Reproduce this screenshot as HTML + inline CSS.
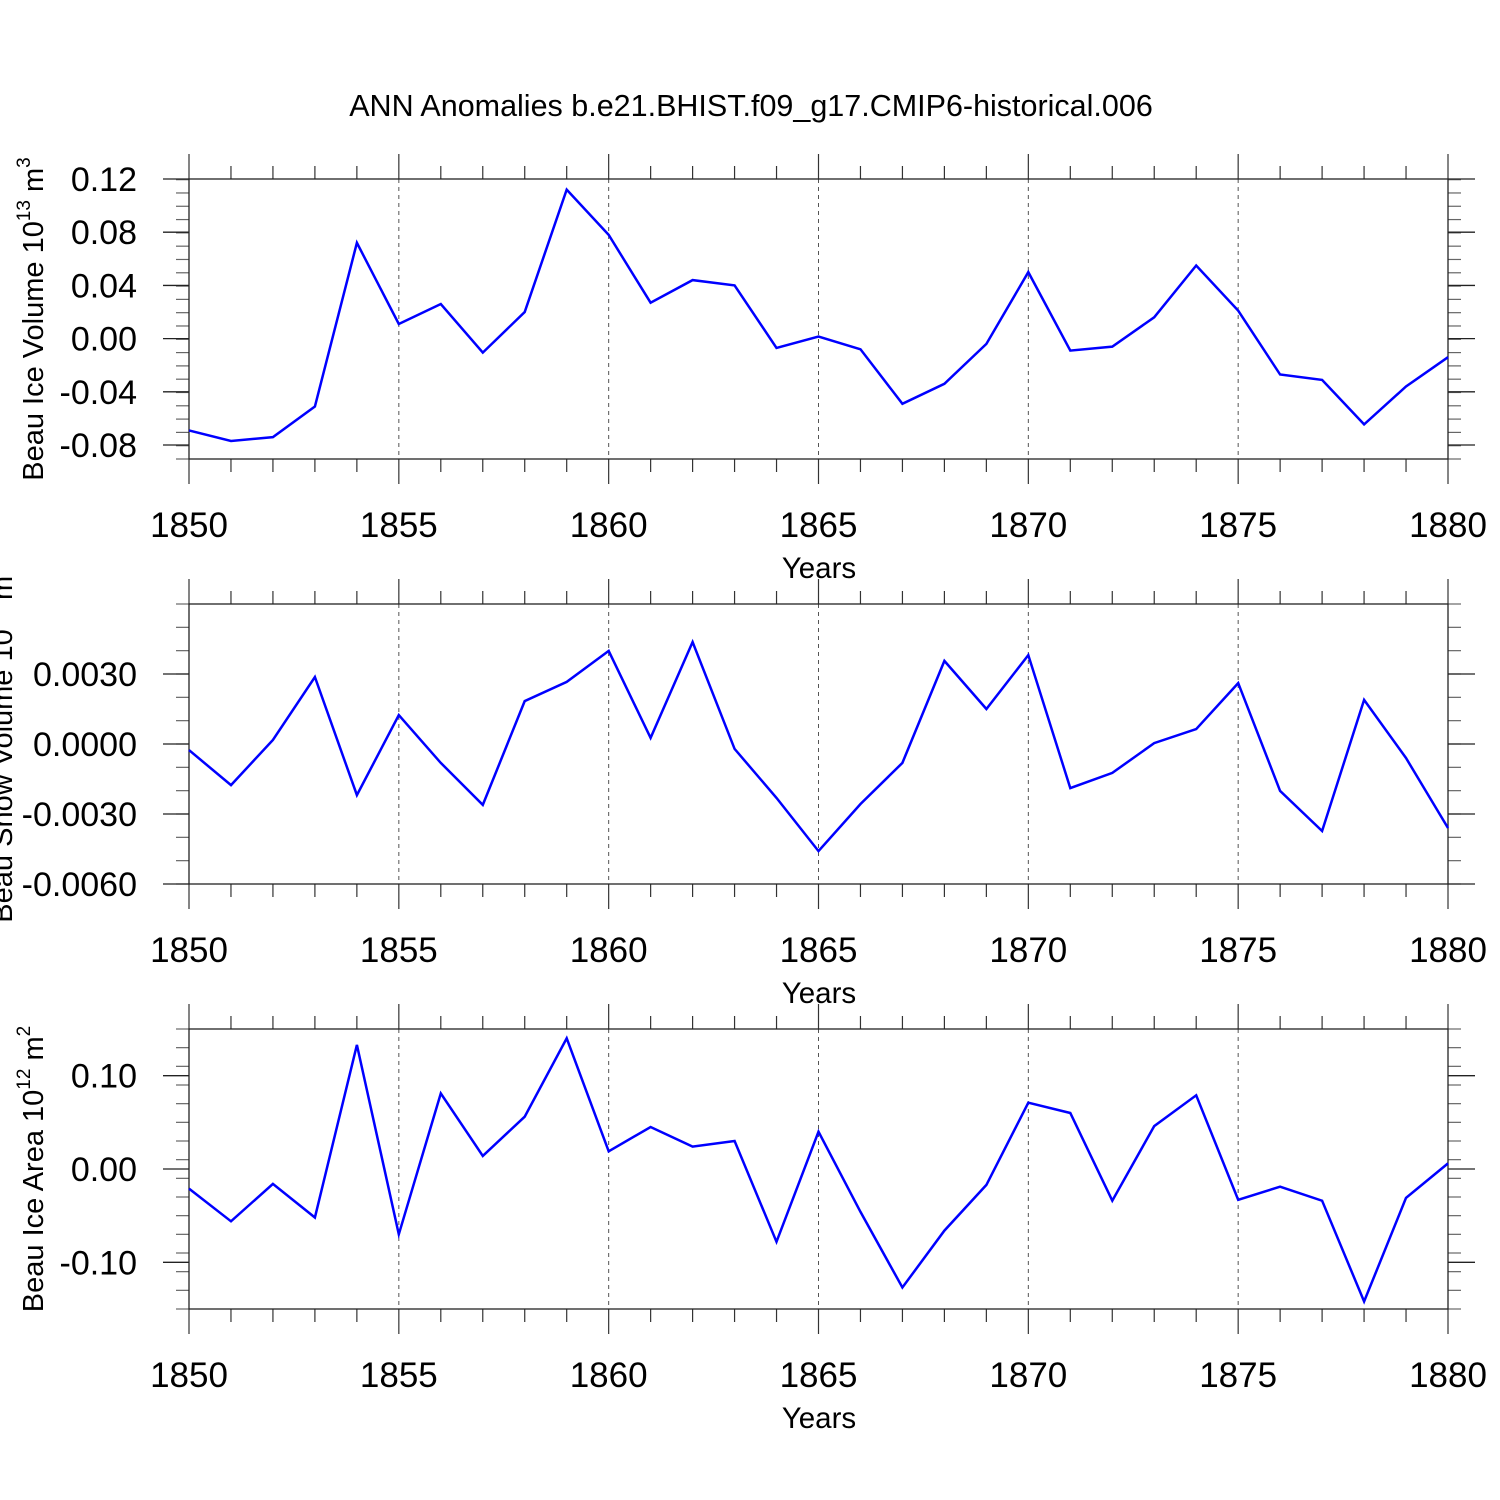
<!DOCTYPE html>
<html><head><meta charset="utf-8"><style>
html,body{margin:0;padding:0;background:#fff;}
svg{display:block;font-family:"Liberation Sans",Helvetica,sans-serif;}
</style></head><body>
<svg id="chart" width="1500" height="1500" viewBox="0 0 1500 1500" xmlns="http://www.w3.org/2000/svg">
<rect width="1500" height="1500" fill="#fff"/>
<text x="751" y="116" font-size="30.5" text-anchor="middle">ANN Anomalies b.e21.BHIST.f09_g17.CMIP6-historical.006</text>
</svg>
<script>
const years = [1850,1851,1852,1853,1854,1855,1856,1857,1858,1859,1860,1861,1862,1863,1864,1865,1866,1867,1868,1869,1870,1871,1872,1873,1874,1875,1876,1877,1878,1879,1880];
const iceVolume = [-0.069,-0.077,-0.074,-0.051,0.072,0.011,0.026,-0.0105,0.020,0.112,0.078,0.027,0.044,0.040,-0.007,0.0015,-0.008,-0.049,-0.034,-0.004,0.050,-0.009,-0.006,0.016,0.055,0.021,-0.027,-0.031,-0.0645,-0.036,-0.014];
const snowVolume = [-0.00026,-0.00176,0.00017,0.00287,-0.00219,0.00124,-0.00081,-0.00261,0.00184,0.00266,0.00399,0.00026,0.00437,-0.00021,-0.00231,-0.00459,-0.00257,-0.00081,0.00356,0.0015,0.00381,-0.00189,-0.00124,0.00004,0.00064,0.00261,-0.00201,-0.00373,0.00189,-0.0006,-0.0036];
const iceArea = [-0.021,-0.056,-0.016,-0.052,0.133,-0.070,0.081,0.014,0.056,0.140,0.019,0.045,0.024,0.030,-0.078,0.040,-0.046,-0.127,-0.066,-0.017,0.071,0.060,-0.034,0.046,0.079,-0.033,-0.019,-0.034,-0.142,-0.031,0.006];
const xTickLabels = ["1850","1855","1860","1865","1870","1875","1880"];
const volTicks = ["0.12","0.08","0.04","0.00","-0.04","-0.08"];
const snowTicks = ["0.0030","0.0000","-0.0030","-0.0060"];
const areaTicks = ["0.10","0.00","-0.10"];

const NS="http://www.w3.org/2000/svg";
const svg=document.getElementById('chart');
function mk(tag,attrs,parent){const e=document.createElementNS(NS,tag);for(const k in attrs)e.setAttribute(k,attrs[k]);(parent||svg).appendChild(e);return e;}

const X0=189,X1=1448;
function xs(yr){return X0+(yr-1850)/30*(X1-X0);}

function panel(name,top,bottom,ymin,ymax,ticks,minorStep,data,label,labelX){
  const g=mk('g',{});
  
  
  const ys=v=>bottom-(v-ymin)/(ymax-ymin)*(bottom-top);
  for(let yr=1855;yr<1880;yr+=5){
    const l=mk('line',{x1:xs(yr),x2:xs(yr),y1:top,y2:bottom,stroke:'#555','stroke-width':1,'stroke-dasharray':'4,4'},g);
    
    
  }
  for(let yr=1850;yr<=1880;yr++){
    const major=(yr%5===0), len=major?25:13;
    mk('line',{x1:xs(yr),x2:xs(yr),y1:top-len,y2:top,stroke:'#333','stroke-width':1.2},g);
    mk('line',{x1:xs(yr),x2:xs(yr),y1:bottom,y2:bottom+len,stroke:'#333','stroke-width':1.2},g);
  }
  const n=Math.round((ymax-ymin)/minorStep);
  for(let i=0;i<=n;i++){
    const v=ymin+i*minorStep, y=ys(v);
    mk('line',{x1:X0-13,x2:X0,y1:y,y2:y,stroke:'#666','stroke-width':1.2},g);
    mk('line',{x1:X1,x2:X1+13,y1:y,y2:y,stroke:'#666','stroke-width':1.2},g);
  }
  ticks.forEach(t=>{
    const y=ys(parseFloat(t));
    mk('line',{x1:X0-26,x2:X0,y1:y,y2:y,stroke:'#222','stroke-width':1.3},g);
    mk('line',{x1:X1,x2:X1+27,y1:y,y2:y,stroke:'#222','stroke-width':1.3},g);
    const tx=mk('text',{x:137,y:y+12,'font-size':34,'text-anchor':'end'},g);
    
    
    tx.textContent=t;
  });
  const fr=mk('rect',{x:X0,y:top,width:X1-X0,height:bottom-top,fill:'none',stroke:'#222','stroke-width':1.3},g);
  
  
  xTickLabels.forEach(t=>{
    const tx=mk('text',{x:xs(parseInt(t)),y:bottom+78,'font-size':35,'text-anchor':'middle'},g);
    
    
    tx.textContent=t;
  });
  const xt=mk('text',{x:819,y:bottom+119,'font-size':29.5,'text-anchor':'middle'},g);
  
  
  xt.textContent='Years';
  const yc=(top+bottom)/2;
  const yt=mk('text',{x:0,y:0,'font-size':29,'text-anchor':'middle',transform:`translate(${labelX},${yc}) rotate(-90)`},g);
  
  
  yt.innerHTML=label;
  const pts=years.map((yr,i)=>xs(yr).toFixed(1)+','+ys(data[i]).toFixed(1)).join(' ');
  const pl=mk('polyline',{points:pts,fill:'none',stroke:'#0000ff','stroke-width':2.5,'stroke-linejoin':'miter'},g);
  
  
}

panel('ice-volume',179,459,-0.0905,0.12,volTicks,0.01,iceVolume,
  'Beau Ice Volume 10<tspan dy="-13" font-size="19">13</tspan><tspan dy="13"> m</tspan><tspan dy="-13" font-size="19">3</tspan>',43);
panel('snow-volume',604,884,-0.006,0.006,snowTicks,0.001,snowVolume,
  'Beau Snow Volume 10<tspan dy="-13" font-size="19">13</tspan><tspan dy="13"> m</tspan><tspan dy="-13" font-size="19">3</tspan>',12);
panel('ice-area',1029,1309,-0.15,0.15,areaTicks,0.02,iceArea,
  'Beau Ice Area 10<tspan dy="-13" font-size="19">12</tspan><tspan dy="13"> m</tspan><tspan dy="-13" font-size="19">2</tspan>',43);
</script>
</body></html>
